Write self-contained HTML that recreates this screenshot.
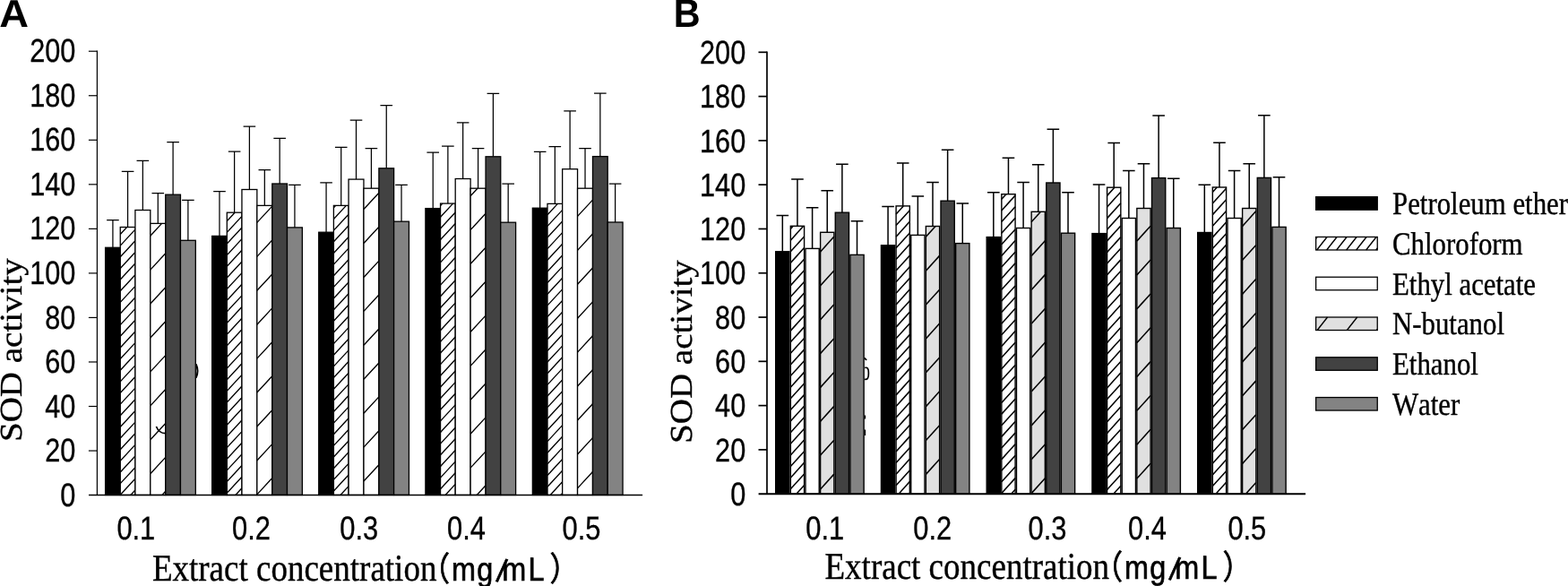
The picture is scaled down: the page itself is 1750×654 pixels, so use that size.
<!DOCTYPE html>
<html lang="en"><head><meta charset="utf-8"><title>SOD activity</title>
<style>
html,body{margin:0;padding:0;background:#fff;}
body{width:1750px;height:654px;overflow:hidden;}
svg{display:block;}
text{fill:#000;text-rendering:geometricPrecision;font-kerning:none;}
.sans{font-family:"Liberation Sans",sans-serif;}
.serif{font-family:"Liberation Serif",serif;}
.num{stroke:#000;stroke-width:0.35px;}
.ser{stroke:#000;stroke-width:0.4px;}
.cjk{font-family:"Liberation Sans","Noto Sans CJK SC",sans-serif;stroke:#000;stroke-width:0.7px;}
</style></head><body>
<svg width="1750" height="654" viewBox="0 0 1750 654">
<rect width="1750" height="654" fill="#fff"/>

<g>
<path d="M125.92,276.30V245.60M119.12,245.60H132.72" stroke="#000" stroke-width="1.25" fill="none"/>
<rect x="117.60" y="276.30" width="16.65" height="276.15" fill="#000"/>
<rect x="117.60" y="276.30" width="16.65" height="276.15" fill="none" stroke="#000" stroke-width="1.3"/>
<path d="M142.57,253.50V191.30M135.77,191.30H149.38" stroke="#000" stroke-width="1.25" fill="none"/>
<rect x="134.25" y="253.50" width="16.65" height="298.95" fill="#fff"/>
<path d="M134.25,261.49L141.64,253.50M134.25,274.13L150.90,256.15M134.25,286.77L150.90,268.79M134.25,299.42L150.90,281.44M134.25,312.06L150.90,294.08M134.25,324.71L150.90,306.72M134.25,337.35L150.90,319.37M134.25,349.99L150.90,332.01M134.25,362.64L150.90,344.66M134.25,375.28L150.90,357.30M134.25,387.93L150.90,369.94M134.25,400.57L150.90,382.59M134.25,413.21L150.90,395.23M134.25,425.86L150.90,407.88M134.25,438.50L150.90,420.52M134.25,451.15L150.90,433.16M134.25,463.79L150.90,445.81M134.25,476.43L150.90,458.45M134.25,489.08L150.90,471.10M134.25,501.72L150.90,483.74M134.25,514.37L150.90,496.38M134.25,527.01L150.90,509.03M134.25,539.65L150.90,521.67M134.25,552.30L150.90,534.32M145.82,552.45L150.90,546.96" stroke="#000" stroke-width="1.35" fill="none"/>
<rect x="134.25" y="253.50" width="16.65" height="298.95" fill="none" stroke="#000" stroke-width="1.3"/>
<path d="M159.35,234.50V179.40M152.55,179.40H166.15" stroke="#000" stroke-width="1.25" fill="none"/>
<rect x="150.90" y="234.50" width="16.90" height="317.95" fill="#fff"/>
<rect x="150.90" y="234.50" width="16.90" height="317.95" fill="none" stroke="#000" stroke-width="1.3"/>
<path d="M176.28,249.40V215.70M169.47,215.70H183.08" stroke="#000" stroke-width="1.25" fill="none"/>
<rect x="167.80" y="249.40" width="16.95" height="303.05" fill="#fff"/>
<path d="M167.80,263.18L180.56,249.40M167.80,301.12L184.75,282.81M167.80,339.05L184.75,320.74M167.80,376.98L184.75,358.67M167.80,414.91L184.75,396.61M167.80,452.84L184.75,434.54M167.80,490.78L184.75,472.47M167.80,528.71L184.75,510.40M180.94,552.45L184.75,548.33" stroke="#000" stroke-width="1.35" fill="none"/>
<rect x="167.80" y="249.40" width="16.95" height="303.05" fill="none" stroke="#000" stroke-width="1.3"/>
<path d="M193.10,217.20V158.60M186.30,158.60H199.90" stroke="#000" stroke-width="1.25" fill="none"/>
<rect x="184.75" y="217.20" width="16.70" height="335.25" fill="#424242"/>
<rect x="184.75" y="217.20" width="16.70" height="335.25" fill="none" stroke="#000" stroke-width="1.3"/>
<path d="M209.88,268.30V223.40M203.07,223.40H216.68" stroke="#000" stroke-width="1.25" fill="none"/>
<rect x="201.45" y="268.30" width="16.85" height="284.15" fill="#838383"/>
<rect x="201.45" y="268.30" width="16.85" height="284.15" fill="none" stroke="#000" stroke-width="1.3"/>
<path d="M244.98,263.40V213.50M238.18,213.50H251.78" stroke="#000" stroke-width="1.25" fill="none"/>
<rect x="236.65" y="263.40" width="16.65" height="289.05" fill="#000"/>
<rect x="236.65" y="263.40" width="16.65" height="289.05" fill="none" stroke="#000" stroke-width="1.3"/>
<path d="M261.62,237.20V169.10M254.82,169.10H268.43" stroke="#000" stroke-width="1.25" fill="none"/>
<rect x="253.30" y="237.20" width="16.65" height="315.25" fill="#fff"/>
<path d="M253.30,246.71L262.10,237.20M253.30,259.35L269.95,241.37M253.30,272.00L269.95,254.01M253.30,284.64L269.95,266.66M253.30,297.28L269.95,279.30M253.30,309.93L269.95,291.95M253.30,322.57L269.95,304.59M253.30,335.22L269.95,317.23M253.30,347.86L269.95,329.88M253.30,360.50L269.95,342.52M253.30,373.15L269.95,355.17M253.30,385.79L269.95,367.81M253.30,398.44L269.95,380.45M253.30,411.08L269.95,393.10M253.30,423.72L269.95,405.74M253.30,436.37L269.95,418.39M253.30,449.01L269.95,431.03M253.30,461.66L269.95,443.67M253.30,474.30L269.95,456.32M253.30,486.94L269.95,468.96M253.30,499.59L269.95,481.61M253.30,512.23L269.95,494.25M253.30,524.88L269.95,506.89M253.30,537.52L269.95,519.54M253.30,550.16L269.95,532.18M262.89,552.45L269.95,544.83" stroke="#000" stroke-width="1.35" fill="none"/>
<rect x="253.30" y="237.20" width="16.65" height="315.25" fill="none" stroke="#000" stroke-width="1.3"/>
<path d="M278.40,211.50V141.00M271.60,141.00H285.20" stroke="#000" stroke-width="1.25" fill="none"/>
<rect x="269.95" y="211.50" width="16.90" height="340.95" fill="#fff"/>
<rect x="269.95" y="211.50" width="16.90" height="340.95" fill="none" stroke="#000" stroke-width="1.3"/>
<path d="M295.33,229.40V189.60M288.53,189.60H302.13" stroke="#000" stroke-width="1.25" fill="none"/>
<rect x="286.85" y="229.40" width="16.95" height="323.05" fill="#fff"/>
<path d="M286.85,248.41L303.80,230.10M286.85,286.34L303.80,268.03M286.85,324.27L303.80,305.96M286.85,362.20L303.80,343.90M286.85,400.13L303.80,381.83M286.85,438.07L303.80,419.76M286.85,476.00L303.80,457.69M286.85,513.93L303.80,495.62M286.85,551.86L303.80,533.56" stroke="#000" stroke-width="1.35" fill="none"/>
<rect x="286.85" y="229.40" width="16.95" height="323.05" fill="none" stroke="#000" stroke-width="1.3"/>
<path d="M312.15,205.00V154.40M305.35,154.40H318.95" stroke="#000" stroke-width="1.25" fill="none"/>
<rect x="303.80" y="205.00" width="16.70" height="347.45" fill="#424242"/>
<rect x="303.80" y="205.00" width="16.70" height="347.45" fill="none" stroke="#000" stroke-width="1.3"/>
<path d="M328.93,253.90V206.30M322.12,206.30H335.73" stroke="#000" stroke-width="1.25" fill="none"/>
<rect x="320.50" y="253.90" width="16.85" height="298.55" fill="#838383"/>
<rect x="320.50" y="253.90" width="16.85" height="298.55" fill="none" stroke="#000" stroke-width="1.3"/>
<path d="M364.07,259.20V203.90M357.27,203.90H370.88" stroke="#000" stroke-width="1.25" fill="none"/>
<rect x="355.75" y="259.20" width="16.65" height="293.25" fill="#000"/>
<rect x="355.75" y="259.20" width="16.65" height="293.25" fill="none" stroke="#000" stroke-width="1.3"/>
<path d="M380.73,229.40V164.30M373.93,164.30H387.53" stroke="#000" stroke-width="1.25" fill="none"/>
<rect x="372.40" y="229.40" width="16.65" height="323.05" fill="#fff"/>
<path d="M372.40,231.88L374.69,229.40M372.40,244.52L386.40,229.40M372.40,257.16L389.05,239.18M372.40,269.81L389.05,251.83M372.40,282.45L389.05,264.47M372.40,295.10L389.05,277.11M372.40,307.74L389.05,289.76M372.40,320.38L389.05,302.40M372.40,333.03L389.05,315.05M372.40,345.67L389.05,327.69M372.40,358.32L389.05,340.33M372.40,370.96L389.05,352.98M372.40,383.60L389.05,365.62M372.40,396.25L389.05,378.27M372.40,408.89L389.05,390.91M372.40,421.54L389.05,403.55M372.40,434.18L389.05,416.20M372.40,446.82L389.05,428.84M372.40,459.47L389.05,441.49M372.40,472.11L389.05,454.13M372.40,484.76L389.05,466.77M372.40,497.40L389.05,479.42M372.40,510.04L389.05,492.06M372.40,522.69L389.05,504.71M372.40,535.33L389.05,517.35M372.40,547.98L389.05,529.99M379.96,552.45L389.05,542.64" stroke="#000" stroke-width="1.35" fill="none"/>
<rect x="372.40" y="229.40" width="16.65" height="323.05" fill="none" stroke="#000" stroke-width="1.3"/>
<path d="M397.50,200.10V134.00M390.70,134.00H404.30" stroke="#000" stroke-width="1.25" fill="none"/>
<rect x="389.05" y="200.10" width="16.90" height="352.35" fill="#fff"/>
<rect x="389.05" y="200.10" width="16.90" height="352.35" fill="none" stroke="#000" stroke-width="1.3"/>
<path d="M414.42,210.20V165.60M407.62,165.60H421.22" stroke="#000" stroke-width="1.25" fill="none"/>
<rect x="405.95" y="210.20" width="16.95" height="342.25" fill="#fff"/>
<path d="M405.95,233.57L422.90,215.27M405.95,271.51L422.90,253.20M405.95,309.44L422.90,291.13M405.95,347.37L422.90,329.06M405.95,385.30L422.90,367.00M405.95,423.23L422.90,404.93M405.95,461.17L422.90,442.86M405.95,499.10L422.90,480.79M405.95,537.03L422.90,518.72" stroke="#000" stroke-width="1.35" fill="none"/>
<rect x="405.95" y="210.20" width="16.95" height="342.25" fill="none" stroke="#000" stroke-width="1.3"/>
<path d="M431.25,187.80V117.50M424.45,117.50H438.05" stroke="#000" stroke-width="1.25" fill="none"/>
<rect x="422.90" y="187.80" width="16.70" height="364.65" fill="#424242"/>
<rect x="422.90" y="187.80" width="16.70" height="364.65" fill="none" stroke="#000" stroke-width="1.3"/>
<path d="M448.02,247.20V206.30M441.22,206.30H454.82" stroke="#000" stroke-width="1.25" fill="none"/>
<rect x="439.60" y="247.20" width="16.85" height="305.25" fill="#838383"/>
<rect x="439.60" y="247.20" width="16.85" height="305.25" fill="none" stroke="#000" stroke-width="1.3"/>
<path d="M483.22,232.60V170.20M476.42,170.20H490.02" stroke="#000" stroke-width="1.25" fill="none"/>
<rect x="474.90" y="232.60" width="16.65" height="319.85" fill="#000"/>
<rect x="474.90" y="232.60" width="16.65" height="319.85" fill="none" stroke="#000" stroke-width="1.3"/>
<path d="M499.88,227.10V163.00M493.07,163.00H506.68" stroke="#000" stroke-width="1.25" fill="none"/>
<rect x="491.55" y="227.10" width="16.65" height="325.35" fill="#fff"/>
<path d="M491.55,229.63L493.90,227.10M491.55,242.28L505.60,227.10M491.55,254.92L508.20,236.94M491.55,267.57L508.20,249.58M491.55,280.21L508.20,262.23M491.55,292.85L508.20,274.87M491.55,305.50L508.20,287.52M491.55,318.14L508.20,300.16M491.55,330.79L508.20,312.80M491.55,343.43L508.20,325.45M491.55,356.07L508.20,338.09M491.55,368.72L508.20,350.74M491.55,381.36L508.20,363.38M491.55,394.01L508.20,376.02M491.55,406.65L508.20,388.67M491.55,419.29L508.20,401.31M491.55,431.94L508.20,413.96M491.55,444.58L508.20,426.60M491.55,457.23L508.20,439.24M491.55,469.87L508.20,451.89M491.55,482.51L508.20,464.53M491.55,495.16L508.20,477.18M491.55,507.80L508.20,489.82M491.55,520.45L508.20,502.46M491.55,533.09L508.20,515.11M491.55,545.73L508.20,527.75M497.04,552.45L508.20,540.40" stroke="#000" stroke-width="1.35" fill="none"/>
<rect x="491.55" y="227.10" width="16.65" height="325.35" fill="none" stroke="#000" stroke-width="1.3"/>
<path d="M516.65,199.50V136.80M509.85,136.80H523.45" stroke="#000" stroke-width="1.25" fill="none"/>
<rect x="508.20" y="199.50" width="16.90" height="352.95" fill="#fff"/>
<rect x="508.20" y="199.50" width="16.90" height="352.95" fill="none" stroke="#000" stroke-width="1.3"/>
<path d="M533.58,210.20V165.60M526.78,165.60H540.38" stroke="#000" stroke-width="1.25" fill="none"/>
<rect x="525.10" y="210.20" width="16.95" height="342.25" fill="#fff"/>
<path d="M525.10,218.69L532.96,210.20M525.10,256.62L542.05,238.31M525.10,294.55L542.05,276.25M525.10,332.48L542.05,314.18M525.10,370.42L542.05,352.11M525.10,408.35L542.05,390.04M525.10,446.28L542.05,427.97M525.10,484.21L542.05,465.91M525.10,522.14L542.05,503.84M532.16,552.45L542.05,541.77" stroke="#000" stroke-width="1.35" fill="none"/>
<rect x="525.10" y="210.20" width="16.95" height="342.25" fill="none" stroke="#000" stroke-width="1.3"/>
<path d="M550.40,174.80V104.30M543.60,104.30H557.20" stroke="#000" stroke-width="1.25" fill="none"/>
<rect x="542.05" y="174.80" width="16.70" height="377.65" fill="#424242"/>
<rect x="542.05" y="174.80" width="16.70" height="377.65" fill="none" stroke="#000" stroke-width="1.3"/>
<path d="M567.17,248.20V205.00M560.38,205.00H573.97" stroke="#000" stroke-width="1.25" fill="none"/>
<rect x="558.75" y="248.20" width="16.85" height="304.25" fill="#838383"/>
<rect x="558.75" y="248.20" width="16.85" height="304.25" fill="none" stroke="#000" stroke-width="1.3"/>
<path d="M602.67,232.20V169.30M595.88,169.30H609.47" stroke="#000" stroke-width="1.25" fill="none"/>
<rect x="594.35" y="232.20" width="16.65" height="320.25" fill="#000"/>
<rect x="594.35" y="232.20" width="16.65" height="320.25" fill="none" stroke="#000" stroke-width="1.3"/>
<path d="M619.33,227.40V163.60M612.53,163.60H626.12" stroke="#000" stroke-width="1.25" fill="none"/>
<rect x="611.00" y="227.40" width="16.65" height="325.05" fill="#fff"/>
<path d="M611.00,239.71L622.40,227.40M611.00,252.36L627.65,234.37M611.00,265.00L627.65,247.02M611.00,277.64L627.65,259.66M611.00,290.29L627.65,272.31M611.00,302.93L627.65,284.95M611.00,315.58L627.65,297.59M611.00,328.22L627.65,310.24M611.00,340.86L627.65,322.88M611.00,353.51L627.65,335.53M611.00,366.15L627.65,348.17M611.00,378.80L627.65,360.81M611.00,391.44L627.65,373.46M611.00,404.08L627.65,386.10M611.00,416.73L627.65,398.75M611.00,429.37L627.65,411.39M611.00,442.02L627.65,424.03M611.00,454.66L627.65,436.68M611.00,467.30L627.65,449.32M611.00,479.95L627.65,461.97M611.00,492.59L627.65,474.61M611.00,505.24L627.65,487.25M611.00,517.88L627.65,499.90M611.00,530.52L627.65,512.54M611.00,543.17L627.65,525.19M614.11,552.45L627.65,537.83M625.82,552.45L627.65,550.47" stroke="#000" stroke-width="1.35" fill="none"/>
<rect x="611.00" y="227.40" width="16.65" height="325.05" fill="none" stroke="#000" stroke-width="1.3"/>
<path d="M636.10,188.70V123.90M629.30,123.90H642.90" stroke="#000" stroke-width="1.25" fill="none"/>
<rect x="627.65" y="188.70" width="16.90" height="363.75" fill="#fff"/>
<rect x="627.65" y="188.70" width="16.90" height="363.75" fill="none" stroke="#000" stroke-width="1.3"/>
<path d="M653.03,210.20V165.60M646.23,165.60H659.83" stroke="#000" stroke-width="1.25" fill="none"/>
<rect x="644.55" y="210.20" width="16.95" height="342.25" fill="#fff"/>
<path d="M644.55,241.41L661.50,223.10M644.55,279.34L661.50,261.04M644.55,317.27L661.50,298.97M644.55,355.21L661.50,336.90M644.55,393.14L661.50,374.83M644.55,431.07L661.50,412.76M644.55,469.00L661.50,450.70M644.55,506.93L661.50,488.63M644.55,544.87L661.50,526.56" stroke="#000" stroke-width="1.35" fill="none"/>
<rect x="644.55" y="210.20" width="16.95" height="342.25" fill="none" stroke="#000" stroke-width="1.3"/>
<path d="M669.85,174.60V104.10M663.05,104.10H676.65" stroke="#000" stroke-width="1.25" fill="none"/>
<rect x="661.50" y="174.60" width="16.70" height="377.85" fill="#424242"/>
<rect x="661.50" y="174.60" width="16.70" height="377.85" fill="none" stroke="#000" stroke-width="1.3"/>
<path d="M686.62,248.00V205.20M679.83,205.20H693.42" stroke="#000" stroke-width="1.25" fill="none"/>
<rect x="678.20" y="248.00" width="16.85" height="304.45" fill="#838383"/>
<rect x="678.20" y="248.00" width="16.85" height="304.45" fill="none" stroke="#000" stroke-width="1.3"/>
<path d="M108.40,56.60V552.45" stroke="#000" stroke-width="1.2" fill="none"/>
<path d="M99.00,552.45H717.10" stroke="#000" stroke-width="1.3499999999999999" fill="none"/>
<path d="M98.90,57.20H108.40" stroke="#000" stroke-width="1.2" fill="none"/>
<path d="M98.90,106.74H108.40" stroke="#000" stroke-width="1.2" fill="none"/>
<path d="M98.90,156.28H108.40" stroke="#000" stroke-width="1.2" fill="none"/>
<path d="M98.90,205.82H108.40" stroke="#000" stroke-width="1.2" fill="none"/>
<path d="M98.90,255.36H108.40" stroke="#000" stroke-width="1.2" fill="none"/>
<path d="M98.90,304.90H108.40" stroke="#000" stroke-width="1.2" fill="none"/>
<path d="M98.90,354.44H108.40" stroke="#000" stroke-width="1.2" fill="none"/>
<path d="M98.90,403.98H108.40" stroke="#000" stroke-width="1.2" fill="none"/>
<path d="M98.90,453.52H108.40" stroke="#000" stroke-width="1.2" fill="none"/>
<path d="M98.90,503.06H108.40" stroke="#000" stroke-width="1.2" fill="none"/>
<text class="sans num" font-size="36.5" text-anchor="end" transform="translate(84.30,69.30) scale(0.84,1)">200</text>
<text class="sans num" font-size="36.5" text-anchor="end" transform="translate(84.30,118.84) scale(0.84,1)">180</text>
<text class="sans num" font-size="36.5" text-anchor="end" transform="translate(84.30,168.38) scale(0.84,1)">160</text>
<text class="sans num" font-size="36.5" text-anchor="end" transform="translate(84.30,217.92) scale(0.84,1)">140</text>
<text class="sans num" font-size="36.5" text-anchor="end" transform="translate(84.30,267.46) scale(0.84,1)">120</text>
<text class="sans num" font-size="36.5" text-anchor="end" transform="translate(84.30,317.00) scale(0.84,1)">100</text>
<text class="sans num" font-size="36.5" text-anchor="end" transform="translate(84.30,366.54) scale(0.84,1)">80</text>
<text class="sans num" font-size="36.5" text-anchor="end" transform="translate(84.30,416.08) scale(0.84,1)">60</text>
<text class="sans num" font-size="36.5" text-anchor="end" transform="translate(84.30,465.62) scale(0.84,1)">40</text>
<text class="sans num" font-size="36.5" text-anchor="end" transform="translate(84.30,515.16) scale(0.84,1)">20</text>
<text class="sans num" font-size="36.5" text-anchor="end" transform="translate(84.30,564.70) scale(0.84,1)">0</text>
</g>
<g>
<path d="M873.32,280.80V240.60M866.52,240.60H880.12" stroke="#000" stroke-width="1.5" fill="none"/>
<rect x="865.70" y="280.80" width="15.24" height="270.40" fill="#000"/>
<rect x="865.70" y="280.80" width="15.24" height="270.40" fill="none" stroke="#000" stroke-width="1.4"/>
<path d="M889.96,252.30V199.90M883.16,199.90H896.76" stroke="#000" stroke-width="1.5" fill="none"/>
<rect x="882.34" y="252.30" width="15.24" height="298.90" fill="#fff"/>
<path d="M882.34,255.53L885.26,252.30M882.34,268.15L896.68,252.30M882.34,280.77L897.58,263.93M882.34,293.39L897.58,276.55M882.34,306.01L897.58,289.17M882.34,318.63L897.58,301.79M882.34,331.25L897.58,314.41M882.34,343.87L897.58,327.03M882.34,356.49L897.58,339.65M882.34,369.11L897.58,352.27M882.34,381.73L897.58,364.89M882.34,394.35L897.58,377.51M882.34,406.97L897.58,390.13M882.34,419.59L897.58,402.75M882.34,432.21L897.58,415.37M882.34,444.83L897.58,427.99M882.34,457.45L897.58,440.61M882.34,470.07L897.58,453.23M882.34,482.69L897.58,465.85M882.34,495.31L897.58,478.47M882.34,507.93L897.58,491.09M882.34,520.55L897.58,503.71M882.34,533.17L897.58,516.33M882.34,545.79L897.58,528.95M888.86,551.20L897.58,541.57" stroke="#000" stroke-width="1.55" fill="none"/>
<rect x="882.34" y="252.30" width="15.24" height="298.90" fill="none" stroke="#000" stroke-width="1.4"/>
<path d="M906.60,277.40V231.70M899.80,231.70H913.40" stroke="#000" stroke-width="1.5" fill="none"/>
<rect x="898.98" y="277.40" width="15.24" height="273.80" fill="#fff"/>
<rect x="898.98" y="277.40" width="15.24" height="273.80" fill="none" stroke="#000" stroke-width="1.4"/>
<path d="M923.24,259.30V212.80M916.44,212.80H930.04" stroke="#000" stroke-width="1.5" fill="none"/>
<rect x="915.62" y="259.30" width="15.24" height="291.90" fill="#e0e0e0"/>
<path d="M915.62,280.94L930.86,264.09M915.62,318.80L930.86,301.95M915.62,356.66L930.86,339.81M915.62,394.52L930.86,377.67M915.62,432.38L930.86,415.53M915.62,470.24L930.86,453.39M915.62,508.10L930.86,491.25M915.62,545.96L930.86,529.11" stroke="#000" stroke-width="1.55" fill="none"/>
<rect x="915.62" y="259.30" width="15.24" height="291.90" fill="none" stroke="#000" stroke-width="1.4"/>
<path d="M939.88,237.20V183.20M933.08,183.20H946.68" stroke="#000" stroke-width="1.5" fill="none"/>
<rect x="932.26" y="237.20" width="15.24" height="314.00" fill="#424242"/>
<rect x="932.26" y="237.20" width="15.24" height="314.00" fill="none" stroke="#000" stroke-width="1.4"/>
<path d="M956.52,284.40V246.80M949.72,246.80H963.32" stroke="#000" stroke-width="1.5" fill="none"/>
<rect x="948.90" y="284.40" width="15.24" height="266.80" fill="#838383"/>
<rect x="948.90" y="284.40" width="15.24" height="266.80" fill="none" stroke="#000" stroke-width="1.4"/>
<path d="M991.07,273.80V230.60M984.27,230.60H997.87" stroke="#000" stroke-width="1.5" fill="none"/>
<rect x="983.45" y="273.80" width="15.24" height="277.40" fill="#000"/>
<rect x="983.45" y="273.80" width="15.24" height="277.40" fill="none" stroke="#000" stroke-width="1.4"/>
<path d="M1007.71,229.90V182.10M1000.91,182.10H1014.51" stroke="#000" stroke-width="1.5" fill="none"/>
<rect x="1000.09" y="229.90" width="15.24" height="321.30" fill="#fff"/>
<path d="M1000.09,238.94L1008.27,229.90M1000.09,251.56L1015.33,234.71M1000.09,264.18L1015.33,247.33M1000.09,276.80L1015.33,259.95M1000.09,289.42L1015.33,272.57M1000.09,302.04L1015.33,285.19M1000.09,314.66L1015.33,297.81M1000.09,327.28L1015.33,310.43M1000.09,339.90L1015.33,323.05M1000.09,352.52L1015.33,335.67M1000.09,365.14L1015.33,348.29M1000.09,377.76L1015.33,360.91M1000.09,390.38L1015.33,373.53M1000.09,403.00L1015.33,386.15M1000.09,415.62L1015.33,398.77M1000.09,428.24L1015.33,411.39M1000.09,440.86L1015.33,424.01M1000.09,453.48L1015.33,436.63M1000.09,466.10L1015.33,449.25M1000.09,478.72L1015.33,461.87M1000.09,491.34L1015.33,474.49M1000.09,503.96L1015.33,487.11M1000.09,516.58L1015.33,499.73M1000.09,529.20L1015.33,512.35M1000.09,541.82L1015.33,524.97M1003.02,551.20L1015.33,537.59M1014.44,551.20L1015.33,550.21" stroke="#000" stroke-width="1.55" fill="none"/>
<rect x="1000.09" y="229.90" width="15.24" height="321.30" fill="none" stroke="#000" stroke-width="1.4"/>
<path d="M1024.35,262.40V218.90M1017.55,218.90H1031.15" stroke="#000" stroke-width="1.5" fill="none"/>
<rect x="1016.73" y="262.40" width="15.24" height="288.80" fill="#fff"/>
<rect x="1016.73" y="262.40" width="15.24" height="288.80" fill="none" stroke="#000" stroke-width="1.4"/>
<path d="M1040.99,252.50V203.40M1034.19,203.40H1047.79" stroke="#000" stroke-width="1.5" fill="none"/>
<rect x="1033.37" y="252.50" width="15.24" height="298.70" fill="#e0e0e0"/>
<path d="M1033.37,264.35L1044.09,252.50M1033.37,302.21L1048.61,285.36M1033.37,340.07L1048.61,323.22M1033.37,377.93L1048.61,361.08M1033.37,415.79L1048.61,398.94M1033.37,453.65L1048.61,436.80M1033.37,491.51L1048.61,474.66M1033.37,529.37L1048.61,512.52M1047.87,551.20L1048.61,550.38" stroke="#000" stroke-width="1.55" fill="none"/>
<rect x="1033.37" y="252.50" width="15.24" height="298.70" fill="none" stroke="#000" stroke-width="1.4"/>
<path d="M1057.63,224.20V167.20M1050.83,167.20H1064.43" stroke="#000" stroke-width="1.5" fill="none"/>
<rect x="1050.01" y="224.20" width="15.24" height="327.00" fill="#424242"/>
<rect x="1050.01" y="224.20" width="15.24" height="327.00" fill="none" stroke="#000" stroke-width="1.4"/>
<path d="M1074.27,271.60V227.00M1067.47,227.00H1081.07" stroke="#000" stroke-width="1.5" fill="none"/>
<rect x="1066.65" y="271.60" width="15.24" height="279.60" fill="#838383"/>
<rect x="1066.65" y="271.60" width="15.24" height="279.60" fill="none" stroke="#000" stroke-width="1.4"/>
<path d="M1108.82,264.60V214.80M1102.02,214.80H1115.62" stroke="#000" stroke-width="1.5" fill="none"/>
<rect x="1101.20" y="264.60" width="15.24" height="286.60" fill="#000"/>
<rect x="1101.20" y="264.60" width="15.24" height="286.60" fill="none" stroke="#000" stroke-width="1.4"/>
<path d="M1125.46,216.70V176.20M1118.66,176.20H1132.26" stroke="#000" stroke-width="1.5" fill="none"/>
<rect x="1117.84" y="216.70" width="15.24" height="334.50" fill="#fff"/>
<path d="M1117.84,222.35L1122.95,216.70M1117.84,234.97L1133.08,218.12M1117.84,247.59L1133.08,230.74M1117.84,260.21L1133.08,243.36M1117.84,272.83L1133.08,255.98M1117.84,285.45L1133.08,268.60M1117.84,298.07L1133.08,281.22M1117.84,310.69L1133.08,293.84M1117.84,323.31L1133.08,306.46M1117.84,335.93L1133.08,319.08M1117.84,348.55L1133.08,331.70M1117.84,361.17L1133.08,344.32M1117.84,373.79L1133.08,356.94M1117.84,386.41L1133.08,369.56M1117.84,399.03L1133.08,382.18M1117.84,411.65L1133.08,394.80M1117.84,424.27L1133.08,407.42M1117.84,436.89L1133.08,420.04M1117.84,449.51L1133.08,432.66M1117.84,462.13L1133.08,445.28M1117.84,474.75L1133.08,457.90M1117.84,487.37L1133.08,470.52M1117.84,499.99L1133.08,483.14M1117.84,512.61L1133.08,495.76M1117.84,525.23L1133.08,508.38M1117.84,537.85L1133.08,521.00M1117.84,550.47L1133.08,533.62M1128.59,551.20L1133.08,546.24" stroke="#000" stroke-width="1.55" fill="none"/>
<rect x="1117.84" y="216.70" width="15.24" height="334.50" fill="none" stroke="#000" stroke-width="1.4"/>
<path d="M1142.10,254.50V203.40M1135.30,203.40H1148.90" stroke="#000" stroke-width="1.5" fill="none"/>
<rect x="1134.48" y="254.50" width="15.24" height="296.70" fill="#fff"/>
<rect x="1134.48" y="254.50" width="15.24" height="296.70" fill="none" stroke="#000" stroke-width="1.4"/>
<path d="M1158.74,236.30V183.80M1151.94,183.80H1165.54" stroke="#000" stroke-width="1.5" fill="none"/>
<rect x="1151.12" y="236.30" width="15.24" height="314.90" fill="#e0e0e0"/>
<path d="M1151.12,247.76L1161.48,236.30M1151.12,285.62L1166.36,268.77M1151.12,323.48L1166.36,306.63M1151.12,361.34L1166.36,344.49M1151.12,399.20L1166.36,382.35M1151.12,437.06L1166.36,420.21M1151.12,474.92L1166.36,458.07M1151.12,512.78L1166.36,495.93M1151.12,550.64L1166.36,533.79" stroke="#000" stroke-width="1.55" fill="none"/>
<rect x="1151.12" y="236.30" width="15.24" height="314.90" fill="none" stroke="#000" stroke-width="1.4"/>
<path d="M1175.38,204.00V144.30M1168.58,144.30H1182.18" stroke="#000" stroke-width="1.5" fill="none"/>
<rect x="1167.76" y="204.00" width="15.24" height="347.20" fill="#424242"/>
<rect x="1167.76" y="204.00" width="15.24" height="347.20" fill="none" stroke="#000" stroke-width="1.4"/>
<path d="M1192.02,260.20V214.80M1185.22,214.80H1198.82" stroke="#000" stroke-width="1.5" fill="none"/>
<rect x="1184.40" y="260.20" width="15.24" height="291.00" fill="#838383"/>
<rect x="1184.40" y="260.20" width="15.24" height="291.00" fill="none" stroke="#000" stroke-width="1.4"/>
<path d="M1226.57,260.60V206.00M1219.77,206.00H1233.37" stroke="#000" stroke-width="1.5" fill="none"/>
<rect x="1218.95" y="260.60" width="15.24" height="290.60" fill="#000"/>
<rect x="1218.95" y="260.60" width="15.24" height="290.60" fill="none" stroke="#000" stroke-width="1.4"/>
<path d="M1243.21,209.20V159.40M1236.41,159.40H1250.01" stroke="#000" stroke-width="1.5" fill="none"/>
<rect x="1235.59" y="209.20" width="15.24" height="342.00" fill="#fff"/>
<path d="M1235.59,218.38L1243.89,209.20M1235.59,231.00L1250.83,214.15M1235.59,243.62L1250.83,226.77M1235.59,256.24L1250.83,239.39M1235.59,268.86L1250.83,252.01M1235.59,281.48L1250.83,264.63M1235.59,294.10L1250.83,277.25M1235.59,306.72L1250.83,289.87M1235.59,319.34L1250.83,302.49M1235.59,331.96L1250.83,315.11M1235.59,344.58L1250.83,327.73M1235.59,357.20L1250.83,340.35M1235.59,369.82L1250.83,352.97M1235.59,382.44L1250.83,365.59M1235.59,395.06L1250.83,378.21M1235.59,407.68L1250.83,390.83M1235.59,420.30L1250.83,403.45M1235.59,432.92L1250.83,416.07M1235.59,445.54L1250.83,428.69M1235.59,458.16L1250.83,441.31M1235.59,470.78L1250.83,453.93M1235.59,483.40L1250.83,466.55M1235.59,496.02L1250.83,479.17M1235.59,508.64L1250.83,491.79M1235.59,521.26L1250.83,504.41M1235.59,533.88L1250.83,517.03M1235.59,546.50L1250.83,529.65M1242.75,551.20L1250.83,542.27" stroke="#000" stroke-width="1.55" fill="none"/>
<rect x="1235.59" y="209.20" width="15.24" height="342.00" fill="none" stroke="#000" stroke-width="1.4"/>
<path d="M1259.85,243.50V190.60M1253.05,190.60H1266.65" stroke="#000" stroke-width="1.5" fill="none"/>
<rect x="1252.23" y="243.50" width="15.24" height="307.70" fill="#fff"/>
<rect x="1252.23" y="243.50" width="15.24" height="307.70" fill="none" stroke="#000" stroke-width="1.4"/>
<path d="M1276.49,232.50V182.70M1269.69,182.70H1283.29" stroke="#000" stroke-width="1.5" fill="none"/>
<rect x="1268.87" y="232.50" width="15.24" height="318.70" fill="#e0e0e0"/>
<path d="M1268.87,269.02L1284.11,252.18M1268.87,306.88L1284.11,290.04M1268.87,344.74L1284.11,327.90M1268.87,382.60L1284.11,365.76M1268.87,420.46L1284.11,403.62M1268.87,458.32L1284.11,441.48M1268.87,496.18L1284.11,479.34M1268.87,534.04L1284.11,517.20" stroke="#000" stroke-width="1.55" fill="none"/>
<rect x="1268.87" y="232.50" width="15.24" height="318.70" fill="none" stroke="#000" stroke-width="1.4"/>
<path d="M1293.13,198.60V128.90M1286.33,128.90H1299.93" stroke="#000" stroke-width="1.5" fill="none"/>
<rect x="1285.51" y="198.60" width="15.24" height="352.60" fill="#424242"/>
<rect x="1285.51" y="198.60" width="15.24" height="352.60" fill="none" stroke="#000" stroke-width="1.4"/>
<path d="M1309.77,254.50V199.20M1302.97,199.20H1316.57" stroke="#000" stroke-width="1.5" fill="none"/>
<rect x="1302.15" y="254.50" width="15.24" height="296.70" fill="#838383"/>
<rect x="1302.15" y="254.50" width="15.24" height="296.70" fill="none" stroke="#000" stroke-width="1.4"/>
<path d="M1344.32,259.50V206.20M1337.52,206.20H1351.12" stroke="#000" stroke-width="1.5" fill="none"/>
<rect x="1336.70" y="259.50" width="15.24" height="291.70" fill="#000"/>
<rect x="1336.70" y="259.50" width="15.24" height="291.70" fill="none" stroke="#000" stroke-width="1.4"/>
<path d="M1360.96,209.00V159.20M1354.16,159.20H1367.76" stroke="#000" stroke-width="1.5" fill="none"/>
<rect x="1353.34" y="209.00" width="15.24" height="342.20" fill="#fff"/>
<path d="M1353.34,214.40L1358.23,209.00M1353.34,227.02L1368.58,210.17M1353.34,239.64L1368.58,222.79M1353.34,252.26L1368.58,235.41M1353.34,264.88L1368.58,248.03M1353.34,277.50L1368.58,260.65M1353.34,290.12L1368.58,273.27M1353.34,302.74L1368.58,285.89M1353.34,315.36L1368.58,298.51M1353.34,327.98L1368.58,311.13M1353.34,340.60L1368.58,323.75M1353.34,353.22L1368.58,336.37M1353.34,365.84L1368.58,348.99M1353.34,378.46L1368.58,361.61M1353.34,391.08L1368.58,374.23M1353.34,403.70L1368.58,386.85M1353.34,416.32L1368.58,399.47M1353.34,428.94L1368.58,412.09M1353.34,441.56L1368.58,424.71M1353.34,454.18L1368.58,437.33M1353.34,466.80L1368.58,449.95M1353.34,479.42L1368.58,462.57M1353.34,492.04L1368.58,475.19M1353.34,504.66L1368.58,487.81M1353.34,517.28L1368.58,500.43M1353.34,529.90L1368.58,513.05M1353.34,542.52L1368.58,525.67M1356.91,551.20L1368.58,538.29M1368.32,551.20L1368.58,550.91" stroke="#000" stroke-width="1.55" fill="none"/>
<rect x="1353.34" y="209.00" width="15.24" height="342.20" fill="none" stroke="#000" stroke-width="1.4"/>
<path d="M1377.60,243.50V190.60M1370.80,190.60H1384.40" stroke="#000" stroke-width="1.5" fill="none"/>
<rect x="1369.98" y="243.50" width="15.24" height="307.70" fill="#fff"/>
<rect x="1369.98" y="243.50" width="15.24" height="307.70" fill="none" stroke="#000" stroke-width="1.4"/>
<path d="M1394.24,232.50V182.70M1387.44,182.70H1401.04" stroke="#000" stroke-width="1.5" fill="none"/>
<rect x="1386.62" y="232.50" width="15.24" height="318.70" fill="#e0e0e0"/>
<path d="M1386.62,252.43L1401.86,235.58M1386.62,290.29L1401.86,273.44M1386.62,328.15L1401.86,311.30M1386.62,366.01L1401.86,349.16M1386.62,403.87L1401.86,387.02M1386.62,441.73L1401.86,424.88M1386.62,479.59L1401.86,462.74M1386.62,517.45L1401.86,500.60M1390.34,551.20L1401.86,538.46" stroke="#000" stroke-width="1.55" fill="none"/>
<rect x="1386.62" y="232.50" width="15.24" height="318.70" fill="none" stroke="#000" stroke-width="1.4"/>
<path d="M1410.88,198.40V128.70M1404.08,128.70H1417.68" stroke="#000" stroke-width="1.5" fill="none"/>
<rect x="1403.26" y="198.40" width="15.24" height="352.80" fill="#424242"/>
<rect x="1403.26" y="198.40" width="15.24" height="352.80" fill="none" stroke="#000" stroke-width="1.4"/>
<path d="M1427.52,253.40V197.70M1420.72,197.70H1434.32" stroke="#000" stroke-width="1.5" fill="none"/>
<rect x="1419.90" y="253.40" width="15.24" height="297.80" fill="#838383"/>
<rect x="1419.90" y="253.40" width="15.24" height="297.80" fill="none" stroke="#000" stroke-width="1.4"/>
<path d="M856.00,57.45V551.20" stroke="#000" stroke-width="1.7" fill="none"/>
<path d="M846.60,551.20H1457.10" stroke="#000" stroke-width="1.8499999999999999" fill="none"/>
<path d="M846.50,58.30H856.00" stroke="#000" stroke-width="1.7" fill="none"/>
<path d="M846.50,107.59H856.00" stroke="#000" stroke-width="1.7" fill="none"/>
<path d="M846.50,156.88H856.00" stroke="#000" stroke-width="1.7" fill="none"/>
<path d="M846.50,206.17H856.00" stroke="#000" stroke-width="1.7" fill="none"/>
<path d="M846.50,255.46H856.00" stroke="#000" stroke-width="1.7" fill="none"/>
<path d="M846.50,304.75H856.00" stroke="#000" stroke-width="1.7" fill="none"/>
<path d="M846.50,354.04H856.00" stroke="#000" stroke-width="1.7" fill="none"/>
<path d="M846.50,403.33H856.00" stroke="#000" stroke-width="1.7" fill="none"/>
<path d="M846.50,452.62H856.00" stroke="#000" stroke-width="1.7" fill="none"/>
<path d="M846.50,501.91H856.00" stroke="#000" stroke-width="1.7" fill="none"/>
<text class="sans num" font-size="36.5" text-anchor="end" transform="translate(832.20,71.00) scale(0.84,1)">200</text>
<text class="sans num" font-size="36.5" text-anchor="end" transform="translate(832.20,120.29) scale(0.84,1)">180</text>
<text class="sans num" font-size="36.5" text-anchor="end" transform="translate(832.20,169.58) scale(0.84,1)">160</text>
<text class="sans num" font-size="36.5" text-anchor="end" transform="translate(832.20,218.87) scale(0.84,1)">140</text>
<text class="sans num" font-size="36.5" text-anchor="end" transform="translate(832.20,268.16) scale(0.84,1)">120</text>
<text class="sans num" font-size="36.5" text-anchor="end" transform="translate(832.20,317.45) scale(0.84,1)">100</text>
<text class="sans num" font-size="36.5" text-anchor="end" transform="translate(832.20,366.74) scale(0.84,1)">80</text>
<text class="sans num" font-size="36.5" text-anchor="end" transform="translate(832.20,416.03) scale(0.84,1)">60</text>
<text class="sans num" font-size="36.5" text-anchor="end" transform="translate(832.20,465.32) scale(0.84,1)">40</text>
<text class="sans num" font-size="36.5" text-anchor="end" transform="translate(832.20,514.61) scale(0.84,1)">20</text>
<text class="sans num" font-size="36.5" text-anchor="end" transform="translate(832.20,563.90) scale(0.84,1)">0</text>
</g>
<path d="M218.8,406.4Q222.2,414 218.8,421.6" stroke="#000" stroke-width="2" fill="none"/>
<path d="M174.4,476Q177.5,483.6 184.4,483.6" stroke="#000" stroke-width="1.7" fill="none"/>
<path d="M964.6,399.5L967.2,401.8M965.2,410.5Q969.6,409 969.4,416.5Q969.6,424.5 965,423.2M965.3,463.5V467.5M965.3,479.5V486" stroke="#000" stroke-width="1.7" fill="none"/>
<text class="sans num" font-size="36.8" transform="translate(130.40,601.7) scale(0.838,1)">0.1</text>
<text class="sans num" font-size="36.8" transform="translate(259.00,601.7) scale(0.838,1)">0.2</text>
<text class="sans num" font-size="36.8" transform="translate(379.30,601.7) scale(0.838,1)">0.3</text>
<text class="sans num" font-size="36.8" transform="translate(499.00,601.7) scale(0.838,1)">0.4</text>
<text class="sans num" font-size="36.8" transform="translate(627.60,601.7) scale(0.838,1)">0.5</text>
<text class="sans num" font-size="36.8" transform="translate(899.30,601.7) scale(0.838,1)">0.1</text>
<text class="sans num" font-size="36.8" transform="translate(1019.30,601.7) scale(0.838,1)">0.2</text>
<text class="sans num" font-size="36.8" transform="translate(1147.60,601.7) scale(0.838,1)">0.3</text>
<text class="sans num" font-size="36.8" transform="translate(1259.00,601.7) scale(0.838,1)">0.4</text>
<text class="sans num" font-size="36.8" transform="translate(1370.40,601.7) scale(0.838,1)">0.5</text>
<text class="sans" font-weight="bold" font-size="43.2" transform="translate(-0.7,30) scale(1.05,1)">A</text>
<text class="sans" font-weight="bold" font-size="44.5" transform="translate(751.8,30) scale(0.93,1)">B</text>
<text class="serif ser" font-size="42.3" transform="translate(169.90,648.4) scale(0.875,1)">Extract concentration<tspan class="cjk" font-size="37.0" x="342.56 381.87 414.18 438.06 446.10 479.44 506.95" rotate="0 0 0 12 0 0 0">（mg/mL）</tspan></text>
<text class="serif ser" font-size="42.3" transform="translate(920.50,646.4) scale(0.875,1)">Extract concentration<tspan class="cjk" font-size="37.0" x="343.01 382.32 414.63 438.51 446.55 479.90 507.41" rotate="0 0 0 12 0 0 0">（mg/mL）</tspan></text>
<text class="serif ser" font-size="39.0" transform="translate(23.50,493.00) rotate(-90) scale(1,0.90)">SOD activity</text>
<text class="serif ser" font-size="39.0" transform="translate(772.30,494.90) rotate(-90) scale(1,0.90)">SOD activity</text>
<rect x="1468.65" y="219.70" width="68.6" height="14.5" fill="#000"/>
<rect x="1468.65" y="219.70" width="68.6" height="14.5" fill="none" stroke="#000" stroke-width="1.3"/>
<text class="serif ser" font-size="35.9" transform="translate(1554.0,239.05) scale(0.859,1)">Petroleum ether</text>
<rect x="1468.65" y="264.47" width="68.6" height="14.5" fill="#fff"/>
<path d="M1468.65,266.24L1470.04,264.47M1469.66,278.97L1481.04,264.47M1480.66,278.97L1492.04,264.47M1491.66,278.97L1503.04,264.47M1502.66,278.97L1514.04,264.47M1513.66,278.97L1525.04,264.47M1524.66,278.97L1536.04,264.47M1535.66,278.97L1537.25,276.95" stroke="#000" stroke-width="1.4" fill="none"/>
<rect x="1468.65" y="264.47" width="68.6" height="14.5" fill="none" stroke="#000" stroke-width="1.3"/>
<text class="serif ser" font-size="35.9" transform="translate(1554.0,283.82) scale(0.859,1)">Chloroform</text>
<rect x="1468.65" y="309.24" width="68.6" height="14.5" fill="#fff"/>
<rect x="1468.65" y="309.24" width="68.6" height="14.5" fill="none" stroke="#000" stroke-width="1.3"/>
<text class="serif ser" font-size="35.9" transform="translate(1554.0,328.59) scale(0.859,1)">Ethyl acetate</text>
<rect x="1468.65" y="354.01" width="68.6" height="14.5" fill="#e0e0e0"/>
<path d="M1470.16,368.51L1481.54,354.01M1503.31,368.51L1514.69,354.01M1536.46,368.51L1537.25,367.51" stroke="#000" stroke-width="1.4" fill="none"/>
<rect x="1468.65" y="354.01" width="68.6" height="14.5" fill="none" stroke="#000" stroke-width="1.3"/>
<text class="serif ser" font-size="35.9" transform="translate(1554.0,373.36) scale(0.859,1)">N-butanol</text>
<rect x="1468.65" y="398.78" width="68.6" height="14.5" fill="#424242"/>
<rect x="1468.65" y="398.78" width="68.6" height="14.5" fill="none" stroke="#000" stroke-width="1.3"/>
<text class="serif ser" font-size="35.9" transform="translate(1554.0,418.13) scale(0.859,1)">Ethanol</text>
<rect x="1468.65" y="443.55" width="68.6" height="14.5" fill="#838383"/>
<rect x="1468.65" y="443.55" width="68.6" height="14.5" fill="none" stroke="#000" stroke-width="1.3"/>
<text class="serif ser" font-size="35.9" transform="translate(1554.0,462.90) scale(0.859,1)">Water</text>
</svg>
</body></html>
